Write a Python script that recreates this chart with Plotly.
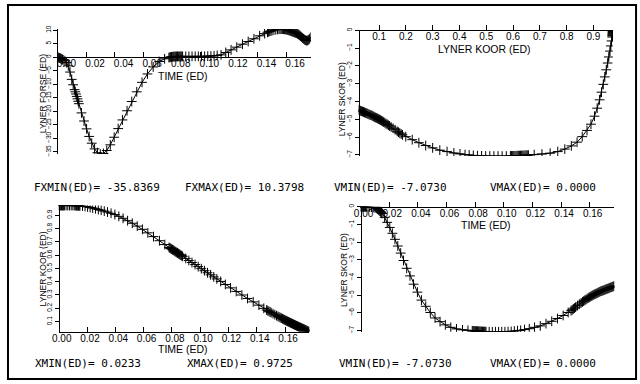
import plotly.graph_objects as go

# ---------------- data ----------------
TIME = [
    0.0000, 0.0005, 0.0010, 0.0015, 0.0020, 0.0025, 0.0030, 0.0035, 0.0040,
    0.0052, 0.0064, 0.0076, 0.0088, 0.0100, 0.0110,
    0.0120, 0.0125, 0.0130, 0.0135, 0.0140, 0.0145, 0.0150,
    0.0168, 0.0186, 0.0204, 0.0222, 0.0240, 0.0260, 0.0280, 0.0300, 0.0322, 0.0345, 0.0370,
    0.0397, 0.0425, 0.0455, 0.0487, 0.0520, 0.0555, 0.0592, 0.0630, 0.0670, 0.0712, 0.0750,
    0.0780, 0.0786, 0.0792, 0.0798, 0.0804, 0.0810, 0.0816, 0.0822, 0.0828, 0.0834, 0.0840,
    0.0846, 0.0852, 0.0858, 0.0864, 0.0870, 0.0876,
    0.0898, 0.0920, 0.0942, 0.0964, 0.0986, 0.1008, 0.1030, 0.1052, 0.1074, 0.1096, 0.1118,
    0.1145, 0.1178, 0.1215, 0.1255, 0.1295, 0.1335, 0.1375, 0.1415, 0.1450,
    0.1470, 0.1478, 0.1486, 0.1494, 0.1502, 0.1515, 0.1528, 0.1540, 0.1550, 0.1558,
    0.1566, 0.1574, 0.1582, 0.1590, 0.1597, 0.1604, 0.1611, 0.1618, 0.1625, 0.1632,
    0.1639, 0.1646, 0.1653, 0.1660, 0.1667, 0.1674, 0.1681, 0.1688, 0.1695, 0.1702,
    0.1709, 0.1716, 0.1723, 0.1730, 0.1737, 0.1744, 0.1751, 0.1758, 0.1765, 0.1772,
]

FORCE = [
    0.0, -0.1, -0.2, -0.3, -0.4, -0.55, -0.7, -0.85, -1.0,
    -1.3, -2.0, -3.2, -5.5, -8.2, -10.2,
    -12.0, -12.8, -13.6, -14.5, -15.4, -16.3, -17.2,
    -20.6, -23.6, -26.5, -29.3, -31.8, -33.9, -35.3, -35.8369, -35.6, -34.5, -32.4,
    -29.6, -26.4, -23.2, -19.8, -16.4, -12.8, -9.3, -6.2, -3.6, -1.6, -0.6,
    -0.15, -0.05, 0.03, 0.10, 0.15, 0.19, 0.22, 0.24, 0.25, 0.26, 0.27,
    0.27, 0.28, 0.28, 0.28, 0.28, 0.28,
    0.29, 0.29, 0.30, 0.30, 0.30, 0.31, 0.33, 0.37, 0.42, 0.50, 0.65,
    0.85, 1.75, 2.7, 3.7, 4.8, 5.8, 6.8, 7.9, 8.7,
    9.2, 9.4, 9.55, 9.7, 9.8, 10.0, 10.15, 10.27, 10.34, 10.37,
    10.3798, 10.37, 10.34, 10.30, 10.24, 10.16, 10.06, 9.94, 9.82, 9.68,
    9.55, 9.40, 9.25, 9.10, 8.98, 8.85, 8.65, 8.40, 8.10, 7.75,
    7.40, 7.05, 6.75, 6.45, 6.25, 6.12, 6.20, 6.45, 6.85, 7.35,
]

KOOR = [
    0.9725, 0.9725, 0.9725, 0.9725, 0.9725, 0.9725, 0.9725, 0.9725, 0.9725,
    0.9725, 0.9725, 0.9724, 0.9723, 0.9721, 0.9719,
    0.9717, 0.9716, 0.9714, 0.9712, 0.9710, 0.9708, 0.9706,
    0.9679, 0.9652, 0.9620, 0.9577, 0.9534, 0.9482, 0.9426, 0.9370, 0.9302, 0.9231, 0.9141,
    0.9041, 0.8910, 0.8762, 0.8583, 0.8390, 0.8177, 0.7933, 0.7670, 0.7386, 0.7079, 0.6790,
    0.6574, 0.6532, 0.6490, 0.6448, 0.6406, 0.6364, 0.6322, 0.6280, 0.6238, 0.6196, 0.6154,
    0.6112, 0.6070, 0.6028, 0.5986, 0.5944, 0.5902,
    0.5748, 0.5594, 0.5440, 0.5286, 0.5132, 0.4978, 0.4825, 0.4671, 0.4516, 0.4362, 0.4208,
    0.4019, 0.3790, 0.3536, 0.3265, 0.2998, 0.2738, 0.2483, 0.2235, 0.1995,
    0.1871, 0.1821, 0.1772, 0.1722, 0.1673, 0.1596, 0.1519, 0.1448, 0.1389, 0.1345,
    0.1301, 0.1257, 0.1213, 0.1169, 0.1131, 0.1092, 0.1055, 0.1018, 0.0981, 0.0944,
    0.0907, 0.0870, 0.0833, 0.0796, 0.0761, 0.0726, 0.0691, 0.0656, 0.0621, 0.0586,
    0.0552, 0.0518, 0.0484, 0.0452, 0.0417, 0.0381, 0.0345, 0.0308, 0.0271, 0.0233,
]

SKOR = [
    0.0, 0.0, 0.0, 0.0, 0.0, 0.0, 0.0, 0.0, 0.0,
    0.0, -0.01, -0.02, -0.035, -0.06, -0.09,
    -0.13, -0.17, -0.21, -0.25, -0.28, -0.32, -0.38,
    -0.60, -0.88, -1.17, -1.50, -1.84, -2.22, -2.62, -3.04, -3.48, -3.91, -4.38,
    -4.83, -5.28, -5.63, -5.98, -6.29, -6.50, -6.68, -6.82, -6.91, -6.96, -6.99,
    -7.020, -7.023, -7.027, -7.030, -7.034, -7.037, -7.041, -7.044, -7.047, -7.051, -7.054,
    -7.058, -7.060, -7.062, -7.064, -7.066, -7.068,
    -7.071, -7.073, -7.073, -7.072, -7.071, -7.070, -7.063, -7.055, -7.035, -7.01, -6.99,
    -6.95, -6.90, -6.82, -6.74, -6.61, -6.48, -6.32, -6.15, -5.98,
    -5.88, -5.83, -5.78, -5.73, -5.68, -5.59, -5.51, -5.44, -5.38, -5.34,
    -5.29, -5.25, -5.20, -5.16, -5.12, -5.09, -5.05, -5.02, -4.99, -4.96,
    -4.93, -4.91, -4.88, -4.85, -4.82, -4.79, -4.77, -4.75, -4.73, -4.71,
    -4.68, -4.66, -4.64, -4.62, -4.59, -4.57, -4.55, -4.53, -4.50, -4.48,
]

TIME_TICKS = [0.00, 0.02, 0.04, 0.06, 0.08, 0.10, 0.12, 0.14, 0.16]
KOOR_TICKS = [0.1, 0.2, 0.3, 0.4, 0.5, 0.6, 0.7, 0.8, 0.9]
FORCE_TICKS = [10, 5, 0, -5, -10, -15, -20, -25, -30, -35]
SKOR_TICKS = [0, -1, -2, -3, -4, -5, -6, -7]

T_END = TIME[-1]
FXMIN, FXMAX = min(FORCE), max(FORCE)
XMIN, XMAX = min(KOOR), max(KOOR)
VMIN, VMAX = min(SKOR), max(SKOR)

# ---------------- layout helpers (pixel -> paper) ----------------
W, H = 640, 384


def px(x):
    return x / W


def py(y):
    return 1 - y / H


def frac(v, lo, hi, dom):
    return dom[0] + (v - lo) / (hi - lo) * (dom[1] - dom[0])


BLACK = "#000000"
TICKFONT = dict(family="Liberation Sans, Arial, sans-serif", size=10, color=BLACK)
YTICKFONT = dict(family="Liberation Sans, Arial, sans-serif", size=6.5, color=BLACK)

line_style = dict(color=BLACK, width=1)
marker_style = dict(symbol="cross-thin", size=7, color=BLACK,
                    line=dict(color=BLACK, width=1))

fig = go.Figure()

fig.add_trace(go.Scatter(x=TIME, y=FORCE, mode="lines+markers", line=line_style,
                         marker=marker_style, xaxis="x", yaxis="y"))
fig.add_trace(go.Scatter(x=KOOR, y=SKOR, mode="lines+markers", line=line_style,
                         marker=marker_style, xaxis="x2", yaxis="y2"))
fig.add_trace(go.Scatter(x=TIME, y=KOOR, mode="lines+markers", line=line_style,
                         marker=marker_style, xaxis="x3", yaxis="y3"))
fig.add_trace(go.Scatter(x=TIME, y=SKOR, mode="lines+markers", line=line_style,
                         marker=marker_style, xaxis="x4", yaxis="y4"))

# domains
d_x1 = [px(51), px(307)]
d_y1 = [py(152.5), py(25.5)]
d_x2 = [px(355.5), px(612.5)]
d_y2 = [py(154.5), py(26.7)]
d_x3 = [px(52.3), px(305.7)]
d_y3 = [py(333), py(204.7)]
d_x4 = [px(357.5), px(614)]
d_y4 = [py(333), py(206)]

common_x = dict(showgrid=False, zeroline=False, showline=True, linecolor=BLACK, linewidth=1,
                ticks="inside", ticklen=5, tickwidth=1, tickcolor=BLACK,
                tickfont=TICKFONT, side="bottom", anchor="free", autorange=False,
                fixedrange=True, ticklabelstandoff=-3)
common_y = dict(showgrid=False, zeroline=False, showline=True, linecolor=BLACK, linewidth=1,
                ticks="outside", ticklen=4, tickwidth=1, tickcolor=BLACK,
                tickfont=YTICKFONT, tickangle=-90, side="left", anchor="free",
                autorange=False, fixedrange=True)

fig.update_layout(
    xaxis=dict(common_x, domain=d_x1, range=[0, T_END], tickvals=TIME_TICKS,
               tickformat=".2f", position=frac(0, FXMIN, FXMAX, d_y1), ticklabelshift=9),
    yaxis=dict(common_y, domain=d_y1, range=[FXMIN, FXMAX], tickvals=FORCE_TICKS,
               position=d_x1[0]),
    xaxis2=dict(common_x, domain=d_x2, range=[XMIN, XMAX], tickvals=KOOR_TICKS,
                tickformat=".1f", position=d_y2[1]),
    yaxis2=dict(common_y, domain=d_y2, range=[VMIN, VMAX], tickvals=SKOR_TICKS,
                position=d_x2[0]),
    xaxis3=dict(common_x, domain=d_x3, range=[0, T_END], tickvals=TIME_TICKS,
                tickformat=".2f", position=d_y3[0], ticklabelshift=3),
    yaxis3=dict(common_y, domain=d_y3, range=[XMIN, XMAX], tickvals=KOOR_TICKS,
                position=d_x3[0]),
    xaxis4=dict(common_x, domain=d_x4, range=[0, T_END], tickvals=TIME_TICKS,
                tickformat=".2f", position=d_y4[1], ticklabelshift=3),
    yaxis4=dict(common_y, domain=d_y4, range=[VMIN, VMAX], tickvals=SKOR_TICKS,
                position=d_x4[0]),
)

TITLEFONT = dict(family="Liberation Sans, Arial, sans-serif", size=10.5, color=BLACK)
YTITLEFONT = dict(family="Liberation Sans, Arial, sans-serif", size=8.5, color=BLACK)
STATFONT = dict(family="DejaVu Sans Mono, Liberation Mono, monospace", size=11, color=BLACK)

annotations = []


def ann(text, x, y, font, xanchor="center", angle=0):
    annotations.append(dict(text=text, x=px(x), y=py(y), xref="paper", yref="paper",
                            showarrow=False, font=font, xanchor=xanchor,
                            yanchor="middle", textangle=angle))


# axis titles
ann("TIME (ED)", 178, 73, TITLEFONT)
ann("LYNER KOOR (ED)", 483, 45.5, TITLEFONT)
ann("TIME (ED)", 178, 350, TITLEFONT)
ann("TIME (ED)", 484, 225, TITLEFONT)
ann("LYNER FORSE (ED)", 36, 91, YTITLEFONT, angle=-90)
ann("LYNER SKOR (ED)", 339.5, 97, YTITLEFONT, angle=-90)
ann("LYNER KOOR (ED)", 36.5, 269.5, YTITLEFONT, angle=-90)
ann("LYNER SKOR (ED)", 340, 270, YTITLEFONT, angle=-90)

# min / max readouts
ann(f"FXMIN(ED)= {FXMIN:.4f}", 25, 186, STATFONT, xanchor="left")
ann(f"FXMAX(ED)= {FXMAX:.4f}", 178, 186, STATFONT, xanchor="left")
ann(f"VMIN(ED)= {VMIN:.4f}", 329, 186, STATFONT, xanchor="left")
ann(f"VMAX(ED)= {VMAX:.4f}", 486, 186, STATFONT, xanchor="left")
ann(f"XMIN(ED)= {XMIN:.4f}", 26, 365, STATFONT, xanchor="left")
ann(f"XMAX(ED)= {XMAX:.4f}", 180, 365, STATFONT, xanchor="left")
ann(f"VMIN(ED)= {VMIN:.4f}", 334, 365, STATFONT, xanchor="left")
ann(f"VMAX(ED)= {VMAX:.4f}", 486, 365, STATFONT, xanchor="left")

fig.update_layout(
    width=W, height=H, margin=dict(l=0, r=0, t=0, b=0),
    paper_bgcolor="white", plot_bgcolor="white", showlegend=False,
    annotations=annotations,
    shapes=[dict(type="rect", xref="paper", yref="paper",
                 x0=px(1), y0=py(381), x1=px(636), y1=py(1),
                 line=dict(color=BLACK, width=2))],
)

fig.write_html(
    "out.html",
    config={"displayModeBar": False},
    post_script="document.body.style.margin='0';document.body.style.overflow='hidden';",
)
